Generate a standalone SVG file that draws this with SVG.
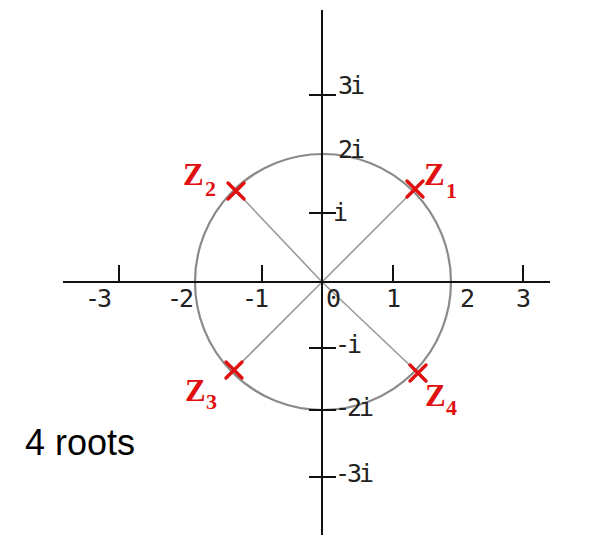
<svg xmlns="http://www.w3.org/2000/svg" width="593" height="535" viewBox="0 0 593 535">
<style>
.ax{stroke:#111;stroke-width:2;fill:none}
.tk{stroke:#111;stroke-width:2}
.circ{stroke:#8a8a8a;stroke-width:2.2;fill:none}
.ray{stroke:#9a9a9a;stroke-width:1.6}
.lbl{font-family:"DejaVu Sans Mono",monospace;font-size:25px;letter-spacing:-3px;fill:#222}
.x{stroke:#e01010;stroke-width:3.4;stroke-linecap:round}
.z{font-family:"Liberation Serif",serif;font-weight:bold;fill:#e01010}
.cap{font-family:"Liberation Sans",Arial,sans-serif;font-size:36px;fill:#000}
</style>
<rect width="593" height="535" fill="#fff"/>
<g id="connectors">
<line class="ray" x1="322" y1="282" x2="415" y2="189"/>
<line class="ray" x1="322" y1="282" x2="236" y2="191"/>
<line class="ray" x1="322" y1="282" x2="234" y2="370"/>
<line class="ray" x1="322" y1="282" x2="418" y2="373"/>
</g>
<g id="circle"><circle class="circ" cx="323" cy="282" r="128"/></g>
<g id="axes">
<line class="ax" x1="63" y1="282" x2="550" y2="282"/>
<line class="ax" x1="322" y1="10" x2="322" y2="535"/>
<line class="tk" x1="119" y1="265" x2="119" y2="283"/>
<line class="tk" x1="262" y1="265" x2="262" y2="283"/>
<line class="tk" x1="393" y1="265" x2="393" y2="283"/>
<line class="tk" x1="523" y1="265" x2="523" y2="283"/>
<line class="tk" x1="309" y1="95" x2="336" y2="95"/>
<line class="tk" x1="309" y1="213" x2="336" y2="213"/>
<line class="tk" x1="309" y1="348" x2="336" y2="348"/>
<line class="tk" x1="309" y1="410" x2="336" y2="410"/>
<line class="tk" x1="309" y1="477" x2="336" y2="477"/>
</g>
<g id="xlabels">
<text class="lbl" x="85" y="307">-3</text>
<text class="lbl" x="167" y="307">-2</text>
<text class="lbl" x="242" y="307">-1</text>
<text class="lbl" x="326" y="307">0</text>
<text class="lbl" x="386" y="307">1</text>
<text class="lbl" x="460" y="307">2</text>
<text class="lbl" x="516" y="307">3</text>
</g>
<g id="ylabels">
<text class="lbl" x="338" y="94">3i</text>
<text class="lbl" x="338" y="158">2i</text>
<text class="lbl" x="333" y="221">i</text>
<text class="lbl" x="335" y="353">-i</text>
<text class="lbl" x="335" y="416">-2i</text>
<text class="lbl" x="335" y="482">-3i</text>
</g>
<g id="z1">
<path class="x" d="M407 181L423 197M423 181L407 197"/>
<text class="z" x="424" y="185" font-size="31">Z</text><text class="z" x="446" y="198" font-size="22">1</text>
</g>
<g id="z2">
<path class="x" d="M228 183L244 199M244 183L228 199"/>
<text class="z" x="183" y="185" font-size="31">Z</text><text class="z" x="205" y="196" font-size="22">2</text>
</g>
<g id="z3">
<path class="x" d="M226 362L242 378M242 362L226 378"/>
<text class="z" x="185" y="401" font-size="31">Z</text><text class="z" x="206" y="409" font-size="22">3</text>
</g>
<g id="z4">
<path class="x" d="M410 365L426 381M426 365L410 381"/>
<text class="z" x="425" y="406" font-size="31">Z</text><text class="z" x="446" y="415" font-size="22">4</text>
</g>
<g id="caption"><text class="cap" x="25" y="455">4 roots</text></g>
</svg>
